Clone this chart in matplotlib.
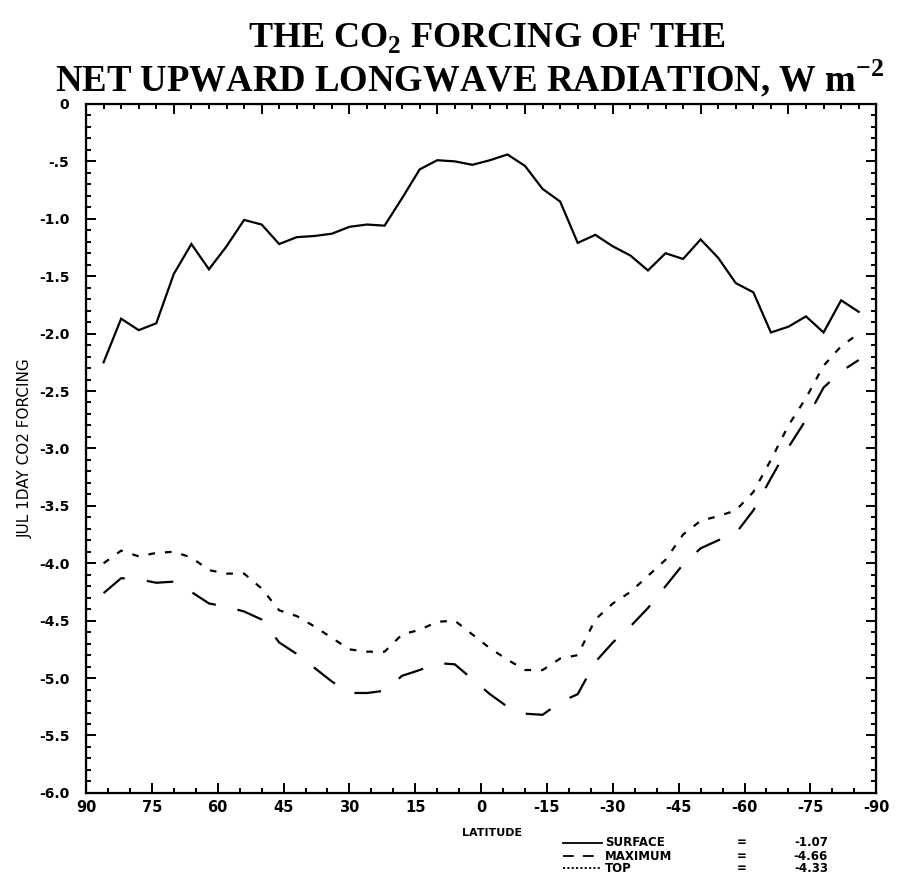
import numpy as np
import matplotlib
matplotlib.use("Agg")
import matplotlib.pyplot as plt
from matplotlib.lines import Line2D

plt.rcParams['mathtext.fontset'] = 'custom'
plt.rcParams['mathtext.rm'] = 'Liberation Serif:bold'
plt.rcParams['mathtext.bf'] = 'Liberation Serif:bold'

# 4 x 5 degree model grid, poles left out
lat = [86, 82, 78, 74, 70, 66, 62, 58, 54, 50, 46, 42, 38, 34, 30, 26, 22, 18, 14, 10, 6, 2,
       -2, -6, -10, -14, -18, -22, -26, -30, -34, -38, -42, -46, -50, -54, -58, -62, -66, -70,
       -74, -78, -82, -86]

surface = [-2.25, -1.87, -1.97, -1.91, -1.48, -1.22, -1.44, -1.24, -1.01, -1.05, -1.22, -1.16,
           -1.15, -1.13, -1.07, -1.05, -1.06, -0.82, -0.57, -0.49, -0.50, -0.53,
           -0.49, -0.44, -0.54, -0.74, -0.85, -1.21, -1.14, -1.24, -1.32, -1.45, -1.30, -1.35,
           -1.18, -1.34, -1.56, -1.64, -1.99, -1.94, -1.85, -1.99, -1.71, -1.81]

maximum = [-4.26, -4.13, -4.14, -4.17, -4.16, -4.25, -4.35, -4.38, -4.42, -4.49, -4.69, -4.79,
           -4.91, -5.03, -5.13, -5.13, -5.11, -4.98, -4.93, -4.87, -4.88, -5.01,
           -5.14, -5.25, -5.31, -5.32, -5.21, -5.14, -4.86, -4.69, -4.55, -4.39, -4.20, -4.01,
           -3.87, -3.80, -3.74, -3.54, -3.26, -2.99, -2.75, -2.47, -2.33, -2.23]

top = [-4.00, -3.89, -3.94, -3.91, -3.90, -3.95, -4.06, -4.09, -4.09, -4.22, -4.41, -4.46,
       -4.55, -4.65, -4.75, -4.77, -4.77, -4.62, -4.58, -4.51, -4.50, -4.62,
       -4.74, -4.84, -4.93, -4.93, -4.83, -4.80, -4.49, -4.35, -4.25, -4.11, -3.97, -3.75,
       -3.63, -3.59, -3.54, -3.38, -3.10, -2.80, -2.56, -2.28, -2.11, -2.00]

legend_names = ['SURFACE', 'MAXIMUM', 'TOP']
legend_means = ['-1.07', '-4.66', '-4.33']

yticks = np.arange(0, -6.01, -0.5)
ytick_labels = ['0', '-.5', '-1.0', '-1.5', '-2.0', '-2.5', '-3.0', '-3.5', '-4.0', '-4.5',
                '-5.0', '-5.5', '-6.0']
xticks = np.arange(90, -91, -15)
xtick_labels = [str(v) for v in xticks]

##########################################################################################
fig = plt.figure(figsize=(9, 8.81), dpi=100)
ax = fig.add_axes([0.0956, 0.100, 0.878, 0.782])

lw = 1.6
ax.plot(lat, surface, color='black', lw=lw, solid_joinstyle='miter')
ax.plot(lat, maximum, color='black', lw=lw, dashes=(12, 10))
ax.plot(lat, top, color='black', lw=lw, dashes=(3, 4.5))

ax.set_xlim(90, -90)
ax.set_ylim(-6, 0)

ax.set_xticks(xticks)
ax.set_xticklabels(xtick_labels, fontsize=10.5, fontweight='bold')
ax.set_xticks(np.arange(90, -91, -5), minor=True)
ax.set_yticks(yticks)
ax.set_yticklabels(ytick_labels, fontsize=10, fontweight='bold')
ax.set_yticks(np.arange(0, -6.01, -0.1), minor=True)

ax.tick_params(which='both', direction='in', width=1.4, right=True)
ax.tick_params(which='major', length=7)
ax.tick_params(which='minor', length=3.6)
ax.tick_params(axis='x', pad=5)
ax.tick_params(axis='y', pad=12)
for s in ax.spines.values():
    s.set_linewidth(1.6)

# top axis has its own tick spacing
axt = ax.twiny()
axt.set_xlim(90, -90)
axt.set_xticks(np.arange(90, -91, -20))
axt.set_xticks(np.arange(90, -91, -4), minor=True)
axt.set_xticklabels([])
axt.tick_params(which='both', direction='in', width=1.4)
axt.tick_params(which='major', length=7)
axt.tick_params(which='minor', length=3.6)

ax.set_ylabel('JUL 1DAY CO2 FORCING', fontsize=11)
ax.yaxis.set_label_coords(-0.067, 0.50)

fig.text(0.547, 0.054, 'LATITUDE', fontsize=8, fontweight='bold', ha='center', va='center')

# titles
fig.text(0.541, 0.957, r'THE CO$_\mathrm{2}$ FORCING OF THE', fontsize=26,
         family='Liberation Serif', fontweight='bold', ha='center', va='center')
fig.text(0.522, 0.911, r'NET UPWARD LONGWAVE RADIATION, W m$^\mathrm{-2}$', fontsize=26.5,
         family='Liberation Serif', fontweight='bold', ha='center', va='center')

# legend block under the plot
styles = [dict(ls='-'), dict(dashes=(6, 5)), dict(dashes=(1.2, 1.2))]
rows_y = [1 - 843 / 881, 1 - 856 / 881, 1 - 868 / 881]
for name, mean, st, yy in zip(legend_names, legend_means, styles, rows_y):
    fig.add_artist(Line2D([563 / 900, 602 / 900], [yy, yy], color='black', lw=1.3,
                          transform=fig.transFigure, **st))
    fig.text(605 / 900, yy, name, fontsize=8.5, fontweight='bold', va='center')
    fig.text(742 / 900, yy, '=', fontsize=8.5, fontweight='bold', va='center', ha='center')
    fig.text(828 / 900, yy, mean, fontsize=8.5, fontweight='bold', va='center', ha='right')

fig.savefig('out.png', dpi=100)
